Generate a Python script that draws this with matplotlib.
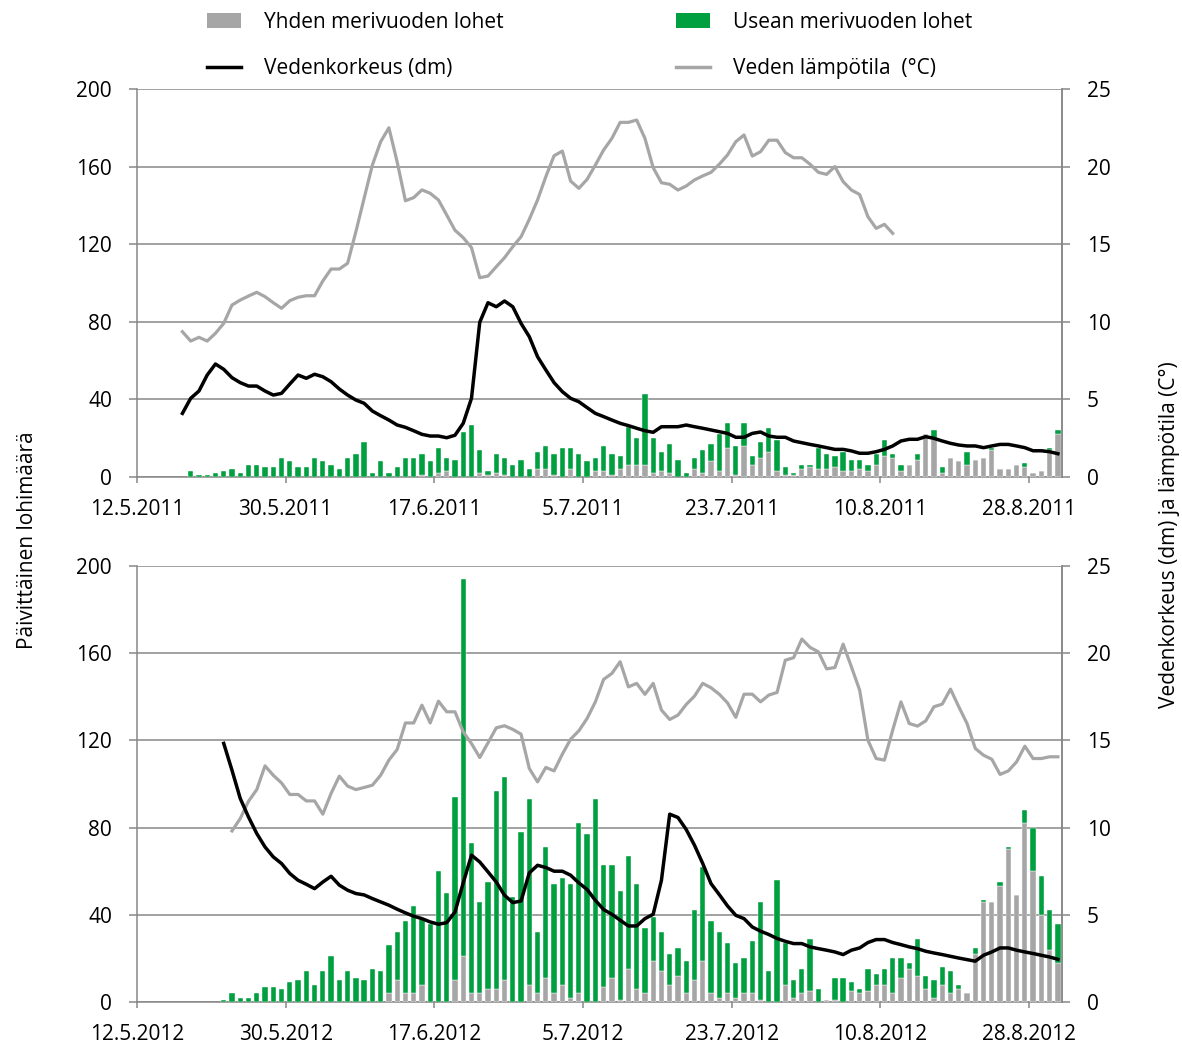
import numpy as np
import matplotlib
matplotlib.use("Agg")
import matplotlib.pyplot as plt
import matplotlib.dates as mdates
from matplotlib.patches import Patch
from matplotlib.lines import Line2D
from datetime import datetime, timedelta

plt.rcParams['font.family'] = ['Open Sans', 'DejaVu Sans']

# ---------------- data ----------------
# 2011: bars start 18.5.2011, lines start 17.5.2011
bar_start_2011 = datetime(2011, 5, 18)
one_sw_2011 = [0, 0, 0, 0, 0, 0, 0, 0, 0, 0,
               0, 0, 0, 0, 0, 0, 0, 0, 0, 0,
               0, 0, 0, 0, 0, 0, 0, 0, 1, 0,
               2, 3, 0, 0, 0, 2, 1, 2, 1, 0,
               0, 0, 4, 4, 1, 0, 4, 0, 0, 3,
               3, 1, 4, 6, 6, 6, 2, 3, 2, 0,
               0, 4, 2, 8, 3, 15, 1, 16, 6, 10,
               13, 3, 1, 1, 4, 5, 4, 4, 5, 3,
               3, 4, 3, 6, 11, 10, 3, 6, 9, 22,
               20, 2, 10, 8, 6, 9, 10, 14, 4, 4,
               6, 5, 2, 3, 14, 22]
multi_sw_2011 = [3, 1, 1, 2, 3, 4, 2, 6, 6, 5,
                 5, 10, 8, 5, 5, 10, 8, 6, 4, 10,
                 12, 18, 2, 8, 2, 5, 10, 10, 11, 8,
                 13, 7, 9, 23, 27, 12, 2, 10, 9, 6,
                 9, 4, 9, 12, 11, 15, 11, 12, 8, 7,
                 13, 11, 7, 20, 14, 37, 18, 10, 15, 9,
                 2, 6, 12, 9, 19, 13, 15, 12, 5, 8,
                 12, 16, 4, 1, 2, 1, 11, 8, 6, 10,
                 6, 5, 3, 6, 8, 2, 3, 0, 3, 0,
                 4, 3, 0, 0, 7, 0, 0, 1, 0, 0,
                 0, 2, 0, 0, 1, 2]
level_start_2011 = datetime(2011, 5, 17)
level_2011 = [4.1, 5.07, 5.54, 6.57, 7.28, 6.94, 6.4, 6.08, 5.86, 5.86,
              5.54, 5.28, 5.39, 5.99, 6.57, 6.36, 6.62, 6.46, 6.14, 5.67,
              5.28, 4.96, 4.75, 4.25, 3.95, 3.67, 3.35, 3.2, 2.98, 2.75,
              2.64, 2.64, 2.53, 2.69, 3.46, 5.07, 9.97, 11.23, 10.97, 11.34,
              10.97, 9.9, 9.04, 7.75, 6.9, 6.08, 5.5, 5.07, 4.85, 4.47,
              4.1, 3.89, 3.67, 3.46, 3.31, 3.14, 2.98, 2.88, 3.24, 3.24,
              3.24, 3.35, 3.24, 3.14, 3.03, 2.92, 2.81, 2.56, 2.56, 2.81,
              2.9, 2.64, 2.56, 2.56, 2.32, 2.21, 2.1, 2.0, 1.89, 1.78,
              1.78, 1.68, 1.53, 1.53, 1.63, 1.78, 2.0, 2.32, 2.43, 2.43,
              2.6, 2.49, 2.32, 2.17, 2.06, 2.0, 2.0, 1.89, 2.0, 2.1,
              2.1, 2.0, 1.89, 1.69, 1.69, 1.63, 1.5]
temp_start_2011 = datetime(2011, 5, 17)
temp_2011 = [9.36, 8.76, 9.0, 8.76, 9.26, 9.9, 11.08, 11.4, 11.66, 11.9,
             11.62, 11.23, 10.87, 11.36, 11.58, 11.68, 11.68, 12.63, 13.4, 13.4,
             13.77, 15.8, 17.96, 20.1, 21.6, 22.5, 20.3, 17.8, 18.0, 18.5,
             18.28, 17.85, 16.88, 15.9, 15.42, 14.78, 12.84, 12.95, 13.55, 14.13,
             14.84, 15.48, 16.6, 17.85, 19.35, 20.7, 21.0, 19.07, 18.6, 19.18,
             20.1, 21.07, 21.82, 22.85, 22.85, 23.0, 21.82, 19.93, 18.96, 18.86,
             18.49, 18.75, 19.14, 19.4, 19.63, 20.15, 20.75, 21.6, 22.04, 20.68,
             20.96, 21.7, 21.7, 20.9, 20.57, 20.57, 20.15, 19.63, 19.5, 20.0,
             19.03, 18.49, 18.2, 16.77, 16.02, 16.28, 15.7]

# 2012: bars start 22.5.2012
bar_start_2012 = datetime(2012, 5, 22)
one_sw_2012 = [0, 0, 0, 0, 0, 0, 0, 0, 0, 0,
               0, 0, 0, 0, 0, 0, 0, 0, 0, 0,
               4, 10, 4, 4, 8, 0, 0, 0, 10, 21,
               4, 4, 6, 6, 10, 0, 0, 8, 4, 11,
               4, 8, 2, 4, 0, 0, 7, 11, 1, 15,
               6, 4, 19, 14, 8, 12, 4, 10, 19, 4,
               2, 4, 2, 4, 4, 1, 0, 0, 8, 2,
               4, 5, 0, 1, 1, 0, 5, 4, 5, 8,
               8, 4, 11, 15, 12, 6, 2, 8, 4, 6,
               4, 22, 46, 46, 53, 70, 49, 82, 60, 40, 24, 18]
multi_sw_2012 = [1, 4, 2, 2, 4, 7, 7, 6, 9, 10,
                 14, 8, 14, 21, 10, 14, 11, 10, 15, 14,
                 22, 22, 33, 40, 30, 36, 60, 50, 84, 173,
                 69, 42, 49, 91, 93, 48, 78, 85, 28, 60,
                 50, 49, 52, 78, 77, 93, 56, 52, 50, 52,
                 48, 30, 20, 18, 14, 13, 15, 32, 43, 33,
                 30, 23, 16, 16, 24, 45, 14, 56, 19, 8,
                 11, 24, 6, 0, 10, 11, 4, 2, 10, 5,
                 7, 16, 9, 3, 17, 6, 8, 8, 10, 2,
                 0, 3, 1, 0, 2, 1, 0, 6, 20, 18, 18, 18]
level_start_2012 = datetime(2012, 5, 22)
level_2012 = [14.83, 13.29, 11.67, 10.61, 9.66, 8.89, 8.32, 7.94, 7.37, 6.98,
              6.75, 6.5, 6.88, 7.21, 6.7, 6.41, 6.22, 6.14, 5.93, 5.74,
              5.55, 5.32, 5.11, 4.92, 4.78, 4.59, 4.46, 4.55, 5.16, 6.83,
              8.42, 8.03, 7.46, 6.88, 6.12, 5.7, 5.79, 7.4, 7.84, 7.71,
              7.5, 7.5, 7.27, 6.83, 6.45, 5.83, 5.3, 5.03, 4.69, 4.36,
              4.36, 4.78, 5.03, 6.98, 10.77, 10.58, 9.89, 8.99, 7.94, 6.79,
              6.16, 5.51, 4.97, 4.78, 4.3, 4.06, 3.87, 3.64, 3.48, 3.35,
              3.35, 3.16, 3.06, 2.97, 2.87, 2.72, 2.97, 3.1, 3.41, 3.58,
              3.58, 3.41, 3.29, 3.16, 3.06, 2.91, 2.81, 2.72, 2.62, 2.52,
              2.43, 2.34, 2.68, 2.87, 3.1, 3.1, 2.97, 2.87, 2.78, 2.68, 2.58, 2.45]
temp_start_2012 = datetime(2012, 5, 23)
temp_2012 = [9.81, 10.52, 11.51, 12.18, 13.54, 13.0, 12.56, 11.9, 11.9, 11.53,
             11.53, 10.77, 11.96, 12.95, 12.38, 12.18, 12.3, 12.43, 13.0, 13.87,
             14.48, 16.0, 16.0, 17.02, 16.0, 17.25, 16.64, 16.64, 15.49, 14.82,
             14.02, 14.86, 15.72, 15.84, 15.63, 15.36, 13.39, 12.62, 13.45, 13.25,
             14.21, 15.07, 15.55, 16.26, 17.21, 18.5, 18.84, 19.51, 18.07, 18.27,
             17.64, 18.27, 16.74, 16.2, 16.45, 17.06, 17.54, 18.27, 18.02, 17.65,
             17.15, 16.32, 17.65, 17.65, 17.21, 17.6, 17.75, 19.6, 19.74, 20.81,
             20.33, 20.08, 19.1, 19.18, 20.52, 19.22, 17.88, 15.01, 13.96, 13.87,
             15.59, 17.21, 15.97, 15.82, 16.12, 16.93, 17.08, 17.94, 16.93, 15.97,
             14.54, 14.15, 13.92, 13.05, 13.25, 13.77, 14.67, 13.96, 13.96, 14.06, 14.06]

legend_labels = ["Yhden merivuoden lohet", "Usean merivuoden lohet",
                 "Vedenkorkeus (dm)", "Veden lämpötila  (°C)"]
left_ylabel = "Päivittäinen lohimäärä"
right_ylabel = "Vedenkorkeus (dm) ja lämpötila (C°)"
left_ticks = [0, 40, 80, 120, 160, 200]
right_ticks = [0, 5, 10, 15, 20, 25]

# ---------------- style ----------------
GRAY_BAR = '#A6A6A6'
GREEN = '#00A040'
GRID = '#878787'
FS = 15

W, H = 1182, 1044
fig = plt.figure(figsize=(W / 100, H / 100), dpi=100)


def day_series(start, n, offset_hours=12):
    return [mdates.date2num(start + timedelta(days=i, hours=offset_hours)) for i in range(n)]


def panel(rect, year, bstart, one_sw, multi_sw, lstart, level, tstart, temp):
    ax = fig.add_axes(rect)
    x0 = datetime(year, 5, 12)
    xb = day_series(bstart, len(one_sw))
    ax.bar(xb, one_sw, width=0.64, color=GRAY_BAR, edgecolor='white', linewidth=0.3, zorder=3)
    ax.bar(xb, multi_sw, width=0.64, bottom=one_sw, color=GREEN, edgecolor='white', linewidth=0.3, zorder=3)
    ax.set_ylim(0, 200)
    ax.set_yticks(left_ticks)
    ax.set_xlim(mdates.date2num(x0), mdates.date2num(x0 + timedelta(days=112)))
    ticks = [x0 + timedelta(days=18 * k) for k in range(7)]
    ax.set_xticks([mdates.date2num(t) for t in ticks])
    ax.set_xticklabels([f"{t.day}.{t.month}.{t.year}" for t in ticks])
    ax.yaxis.grid(True, color=GRID, linewidth=1.1, zorder=0)
    ax.set_axisbelow(True)
    for s in ['left', 'right', 'bottom']:
        ax.spines[s].set_color(GRID)
        ax.spines[s].set_linewidth(1.1)
    ax.spines['top'].set_visible(False)
    ax.tick_params(axis='x', direction='out', length=4, width=1.1, color=GRID, pad=12, labelsize=FS)
    ax.tick_params(axis='y', direction='out', length=6, width=1.1, color=GRID, pad=12, labelsize=FS)

    ax2 = ax.twinx()
    ax2.plot(day_series(tstart, len(temp)), temp, color=GRAY_BAR, linewidth=2.3, zorder=4)
    ax2.plot(day_series(lstart, len(level)), level, color='black', linewidth=2.5, zorder=5)
    ax2.set_ylim(0, 25)
    ax2.set_yticks(right_ticks)
    for s in ['left', 'top', 'bottom']:
        ax2.spines[s].set_visible(False)
    ax2.spines['right'].set_color(GRID)
    ax2.spines['right'].set_linewidth(1.1)
    ax2.tick_params(axis='y', direction='out', length=6, width=1.1, color=GRID, pad=12, labelsize=FS)
    return ax, ax2


L = 137 / W
Wd = 925 / W
panel([L, 1 - 477 / H, Wd, 388 / H], 2011, bar_start_2011, one_sw_2011, multi_sw_2011,
      level_start_2011, level_2011, temp_start_2011, temp_2011)
panel([L, 1 - 1002 / H, Wd, 436 / H], 2012, bar_start_2012, one_sw_2012, multi_sw_2012,
      level_start_2012, level_2012, temp_start_2012, temp_2012)

fig.text(28 / W, 1 - 540 / H, left_ylabel, rotation=90, ha='center', va='center', fontsize=FS)
fig.text(1170 / W, 1 - 535 / H, right_ylabel, rotation=90, ha='center', va='center', fontsize=FS)

h_one = Patch(facecolor=GRAY_BAR, edgecolor='none')
h_multi = Patch(facecolor=GREEN, edgecolor='none')
h_level = Line2D([], [], color='black', linewidth=2.5)
h_temp = Line2D([], [], color=GRAY_BAR, linewidth=2.5)

common = dict(frameon=False, loc='upper left', fontsize=FS, borderpad=0, borderaxespad=0,
              handlelength=1.65, handleheight=0.7, handletextpad=1.1, labelspacing=1.2)
fig.legend([h_one, h_level], [legend_labels[0], legend_labels[2]],
           bbox_to_anchor=(207 / W, 1 - 12 / H), **common)
fig.legend([h_multi, h_temp], [legend_labels[1], legend_labels[3]],
           bbox_to_anchor=(676 / W, 1 - 12 / H), **common)

fig.savefig("out.png", dpi=100)
